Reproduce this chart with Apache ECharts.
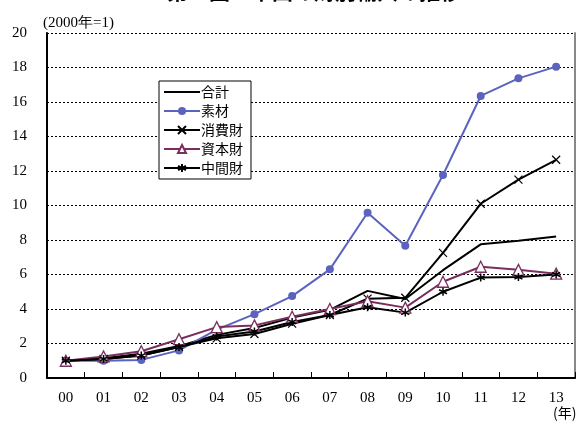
<!DOCTYPE html>
<html>
<head>
<meta charset="utf-8">
<script src="https://cdn.jsdelivr.net/npm/echarts@6/dist/echarts.min.js"></script>
<style>
  html, body { margin: 0; padding: 0; background: #fff; }
  #chart { width: 584px; height: 425px; }
</style>
</head>
<body>
<div id="chart"></div>
<script>
// Years (2000 = 1) and index values per goods category
const years = ['00','01','02','03','04','05','06','07','08','09','10','11','12','13'];
const total       = [1, 1.15, 1.4, 1.85, 2.5, 2.9, 3.5, 3.95, 5.05, 4.58, 6.25, 7.75, 7.95, 8.2];
const materials   = [1, 1.0, 1.05, 1.6, 2.8, 3.7, 4.75, 6.3, 9.58, 7.67, 11.77, 16.35, 17.37, 18.05];
const consumer    = [1, 1.1, 1.3, 1.8, 2.3, 2.55, 3.15, 3.65, 4.6, 4.65, 7.25, 10.1, 11.5, 12.65];
const capital     = [1, 1.25, 1.55, 2.25, 2.95, 3.05, 3.55, 4.0, 4.45, 4.08, 5.58, 6.45, 6.27, 6.05];
const intermediate= [1, 1.1, 1.3, 1.8, 2.4, 2.7, 3.25, 3.65, 4.1, 3.79, 5.0, 5.82, 5.85, 6.0];
const yTicks = [0, 2, 4, 6, 8, 10, 12, 14, 16, 18, 20];

const serif = '"Liberation Serif", "Times New Roman", serif';
const jp = '"Noto Sans CJK JP", sans-serif';

const crossPath = 'path://M0,0 L10,10 M10,0 L0,10';
const starPath = 'path://M5,0 L5,10 M0,2.5 L10,7.5 M0,7.5 L10,2.5';
// plain stroke used as the legend key of the series drawn without markers
const barKey = 'path://M0,0 H36 V2 H0 Z';

const chart = echarts.init(document.getElementById('chart'));

function lineSeries(name, data, color, extra) {
  return Object.assign({
    name: name,
    type: 'line',
    data: data,
    color: color,
    lineStyle: { color: color, width: 2 },
    itemStyle: { color: color },
    animation: false,
    z: 3
  }, extra);
}

chart.setOption({
  animation: false,
  title: {
    text: '第　図　中国の財別輸入の推移',
    left: 162,
    top: -24,
    textStyle: { fontFamily: jp, fontSize: 21, fontWeight: 'bold', color: '#000' }
  },
  grid: { left: 47, right: 9, top: 33, bottom: 47 },
  legend: {
    orient: 'vertical',
    left: 159,
    top: 81,
    itemWidth: 36,
    itemHeight: 10,
    itemGap: 5,
    padding: [4, 8, 4, 4],
    backgroundColor: '#fff',
    borderColor: '#000',
    borderWidth: 1,
    borderRadius: 0,
    textStyle: { fontFamily: jp, fontSize: 14, color: '#000', padding: [0, 0, 0, -4] },
    data: [
      { name: '合計', icon: barKey, itemStyle: { color: '#000' } },
      '素材', '消費財', '資本財', '中間財'
    ]
  },
  xAxis: {
    type: 'category',
    data: years,
    boundaryGap: true,
    axisLine: { lineStyle: { color: '#000', width: 2 } },
    axisTick: { show: true, inside: true, length: 6, lineStyle: { color: '#000', width: 1 } },
    axisLabel: { fontFamily: serif, fontSize: 15, color: '#000', margin: 13 }
  },
  yAxis: [{
    type: 'value',
    min: yTicks[0],
    max: yTicks[yTicks.length - 1],
    interval: 2,
    axisLine: { show: true, lineStyle: { color: '#000', width: 2 } },
    axisTick: { show: false },
    axisLabel: { fontFamily: serif, fontSize: 15, color: '#000', margin: 20 },
    splitLine: { lineStyle: { color: '#000', type: [2, 2], width: 1 } }
  }, {
    type: 'value',
    min: yTicks[0],
    max: yTicks[yTicks.length - 1],
    interval: 2,
    position: 'right',
    axisLine: { show: true, lineStyle: { color: '#888', width: 2 } },
    axisTick: { show: false },
    axisLabel: { show: false },
    splitLine: { show: false }
  }],
  graphic: [
    { type: 'text', left: 43, top: 16, style: { text: '(2000年=1)', font: '15px ' + serif, fill: '#000' } },
    { type: 'text', left: 553, top: 406, style: { text: '(年)', font: '14px ' + jp, fill: '#000' } }
  ],
  series: [
    lineSeries('合計', total, '#000', { symbol: 'none', z: 2 }),
    lineSeries('素材', materials, '#5B63BE', { symbol: 'circle', symbolSize: 8 }),
    lineSeries('消費財', consumer, '#000', {
      symbol: crossPath, symbolSize: 8,
      itemStyle: { color: 'none', borderColor: '#000', borderWidth: 1.2 }
    }),
    lineSeries('資本財', capital, '#7A2E5E', {
      symbol: 'triangle', symbolSize: 11,
      itemStyle: { color: '#fff', borderColor: '#7A2E5E', borderWidth: 1.3 }
    }),
    lineSeries('中間財', intermediate, '#000', {
      symbol: starPath, symbolSize: 8,
      itemStyle: { color: 'none', borderColor: '#000', borderWidth: 1.5 }
    })
  ]
});
</script>
</body>
</html>
